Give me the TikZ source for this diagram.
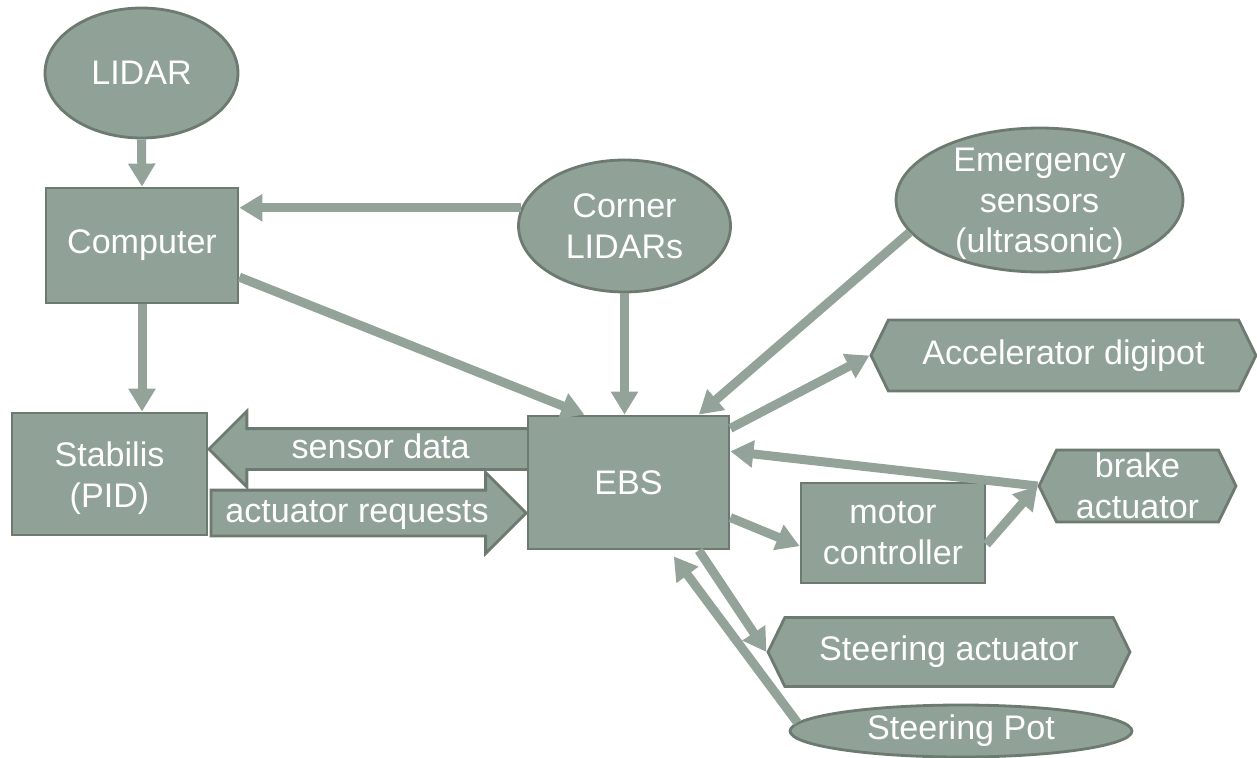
\documentclass[tikz,border=0pt]{standalone}
\usepackage{fontspec}
\setmainfont{Liberation Sans}
\usetikzlibrary{shapes.geometric,shapes.symbols,shapes.arrows,arrows.meta}

\definecolor{fillgray}{RGB}{144,161,151}
\definecolor{edgegray}{RGB}{108,122,112}
\definecolor{arrgray}{RGB}{147,163,153}

\tikzset{
  box/.style={draw=edgegray, fill=fillgray, line width=1.6pt, text=white,
    align=center, inner sep=0pt, font=\fontsize{19.4pt}{23.2pt}\selectfont},
  rectbox/.style={box, rectangle},
  ovalbox/.style={box, ellipse},
  hexbox/.style={box, signal, signal to=west and east, signal pointer angle=128},
  txt/.style={text=white, align=center, inner sep=0pt, font=\fontsize{19.4pt}{23.2pt}\selectfont},
  flow/.style={draw=arrgray, line width=0.18cm, -{Triangle[width=0.52cm,length=0.46cm]}},
  blockarr/.style={box, single arrow, single arrow head extend=0.35cm,
    inner xsep=0pt, text height=0.5cm, text depth=0.14cm}
}

\begin{document}
\begin{tikzpicture}[x=0.02cm,y=-0.02cm]
  \useasboundingbox (0,0) rectangle (1257,757);

  \node[blockarr, shape border rotate=180, anchor=tip, inner ysep=0.06cm,
    minimum height=6.46cm] (sensdata) at (207,449) {sensor data};
  \node[blockarr, anchor=tip, inner ysep=0.11cm,
    minimum height=6.3cm] (actreq) at (528,513) {actuator requests};

  \node[ovalbox, minimum width=3.86cm, minimum height=2.6cm] (lidar) at (141.5,73) {LIDAR};
  \node[rectbox, minimum width=3.84cm, minimum height=2.3cm] (computer) at (142,245.5) {Computer};
  \node[ovalbox, minimum width=4.24cm, minimum height=2.64cm] (corner) at (624.5,226) {Corner\\LIDARs};
  \node[ovalbox, minimum width=5.74cm, minimum height=2.88cm] (emerg) at (1039.5,200) {};
  \node[txt] (emergtxt) at (1039.5,204) {Emergency\\sensors\\(ultrasonic)};
  \node[rectbox, minimum width=3.9cm, minimum height=2.44cm] (stabilis) at (109.5,474) {};
  \node[txt] (stabtxt) at (109.5,478) {Stabilis\\(PID)};
  \node[rectbox, minimum width=4.02cm, minimum height=2.66cm] (ebs) at (628.5,482.5) {EBS};
  \node[hexbox, minimum width=7.7cm, minimum height=1.42cm] (accel) at (1063.5,355.5) {Accelerator digipot};
  \node[hexbox, minimum width=3.94cm, minimum height=1.44cm] (brake) at (1137.5,486) {brake\\actuator};
  \node[rectbox, minimum width=3.68cm, minimum height=2cm] (motor) at (893,533) {motor\\controller};
  \node[hexbox, minimum width=7.24cm, minimum height=1.38cm] (steer) at (949,652) {Steering actuator};
  \node[ovalbox, minimum width=6.84cm, minimum height=1.04cm] (pot) at (961,731) {Steering Pot};

  \draw[flow] (lidar.south) -- (computer.north);
  \draw[flow] (corner.170) -- (corner.170 -| computer.east);
  \draw[flow] (computer.-18) -- (ebs.123);
  \draw[flow] (computer.south) -- (computer.south |- stabilis.north);
  \draw[flow] (corner.south) -- (corner.south |- ebs.north);
  \draw[flow] (emerg.194) -- (ebs.44);
  \draw[flow] (ebs.28) -- (accel.west);
  \draw[flow] (brake.west) -- (ebs.17);
  \draw[flow] (ebs.-19) -- (motor.188);
  \draw[flow] (motor.-7) -- (brake.west);
  \draw[flow] (ebs.-44) -- (steer.west);
  \draw[flow, shorten >=0.15cm] (pot.177) -- (ebs.-59);
\end{tikzpicture}
\end{document}
